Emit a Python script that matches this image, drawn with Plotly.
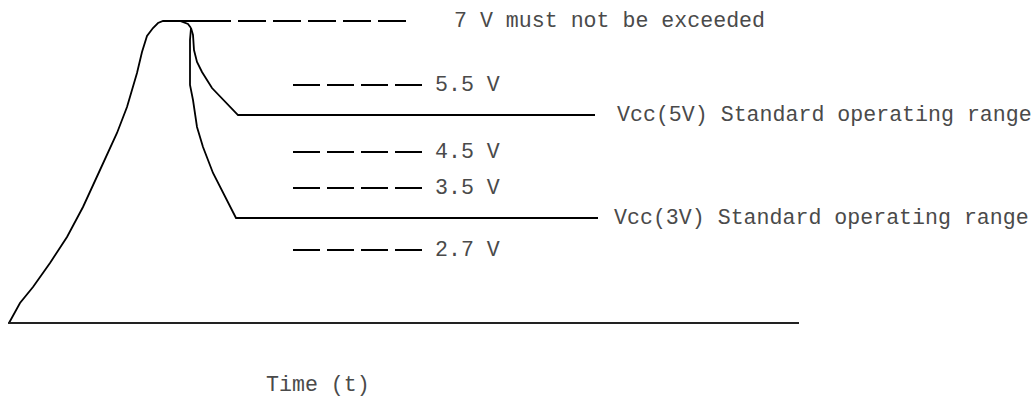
import plotly.graph_objects as go

# Schematic coordinates (x = time units, y = drawing units, top = 0)
rise_t = [9, 20, 33, 50, 67, 83, 100, 117, 127, 137, 142, 147, 153, 158, 163, 180, 188, 191]
rise_y = [323, 303, 287, 263, 237, 207, 170, 133, 107, 73, 52, 36, 28, 23, 21, 21, 24, 28]

vcc5_t = [191, 193, 194, 197, 202, 212, 238, 595]
vcc5_y = [28, 35, 50, 62, 72, 88, 115, 115]

vcc3_t = [191, 190, 190, 193, 197, 203, 213, 225, 236, 598]
vcc3_y = [28, 40, 85, 100, 127, 147, 173, 197, 218, 218]

base_t = [8, 799]
base_y = [323, 323]

top_t = [163, 203]
max_t = [203, 412]
max_y = [21, 21]
max_label = "7 V must not be exceeded"

level_labels = ["5.5 V", "4.5 V", "3.5 V", "2.7 V"]
level_y = [85, 152, 188, 250]
level_t = [293, 422]

range_labels = ["Vcc(5V) Standard operating range", "Vcc(3V) Standard operating range"]
range_t = [615, 612]
range_y = [115, 218]

xlabel = "Time (t)"

FONT = "Liberation Mono"
TXT = "#4a4a4a"

fig = go.Figure()

fig.add_trace(go.Scatter(x=rise_t, y=rise_y, mode="lines",
                         line=dict(color="black", width=1.8)))
fig.add_trace(go.Scatter(x=vcc5_t, y=vcc5_y, mode="lines",
                         line=dict(color="black", width=1.8)))
fig.add_trace(go.Scatter(x=vcc3_t, y=vcc3_y, mode="lines",
                         line=dict(color="black", width=1.8)))
fig.add_trace(go.Scatter(x=base_t, y=base_y, mode="lines",
                         line=dict(color="#222222", width=2)))
fig.add_trace(go.Scatter(x=top_t, y=max_y, mode="lines",
                         line=dict(color="black", width=1.8)))
fig.add_trace(go.Scatter(x=max_t, y=max_y, mode="lines",
                         line=dict(color="black", width=2, dash="28px,7px")))

for y in level_y:
    fig.add_trace(go.Scatter(x=level_t, y=[y, y], mode="lines",
                             line=dict(color="black", width=2, dash="27px,7px")))

annotations = [dict(x=452, y=max_y[0], text=max_label, xanchor="left")]
for lab, y in zip(level_labels, level_y):
    annotations.append(dict(x=433, y=y, text=lab, xanchor="left"))
for lab, t, y in zip(range_labels, range_t, range_y):
    annotations.append(dict(x=t, y=y, text=lab, xanchor="left"))
annotations.append(dict(x=318, y=385, text=xlabel, xanchor="center"))

for a in annotations:
    a.update(showarrow=False, yanchor="middle",
             font=dict(family=FONT, size=21.6, color=TXT))

fig.update_layout(
    width=1036,
    height=403,
    margin=dict(l=0, r=0, t=0, b=0),
    paper_bgcolor="white",
    plot_bgcolor="white",
    showlegend=False,
    annotations=annotations,
    xaxis=dict(range=[0, 1036], visible=False, fixedrange=True),
    yaxis=dict(range=[403, 0], visible=False, fixedrange=True),
)

fig.write_html("out.html", config={"displayModeBar": False},
               post_script="document.body.style.margin='0';")
